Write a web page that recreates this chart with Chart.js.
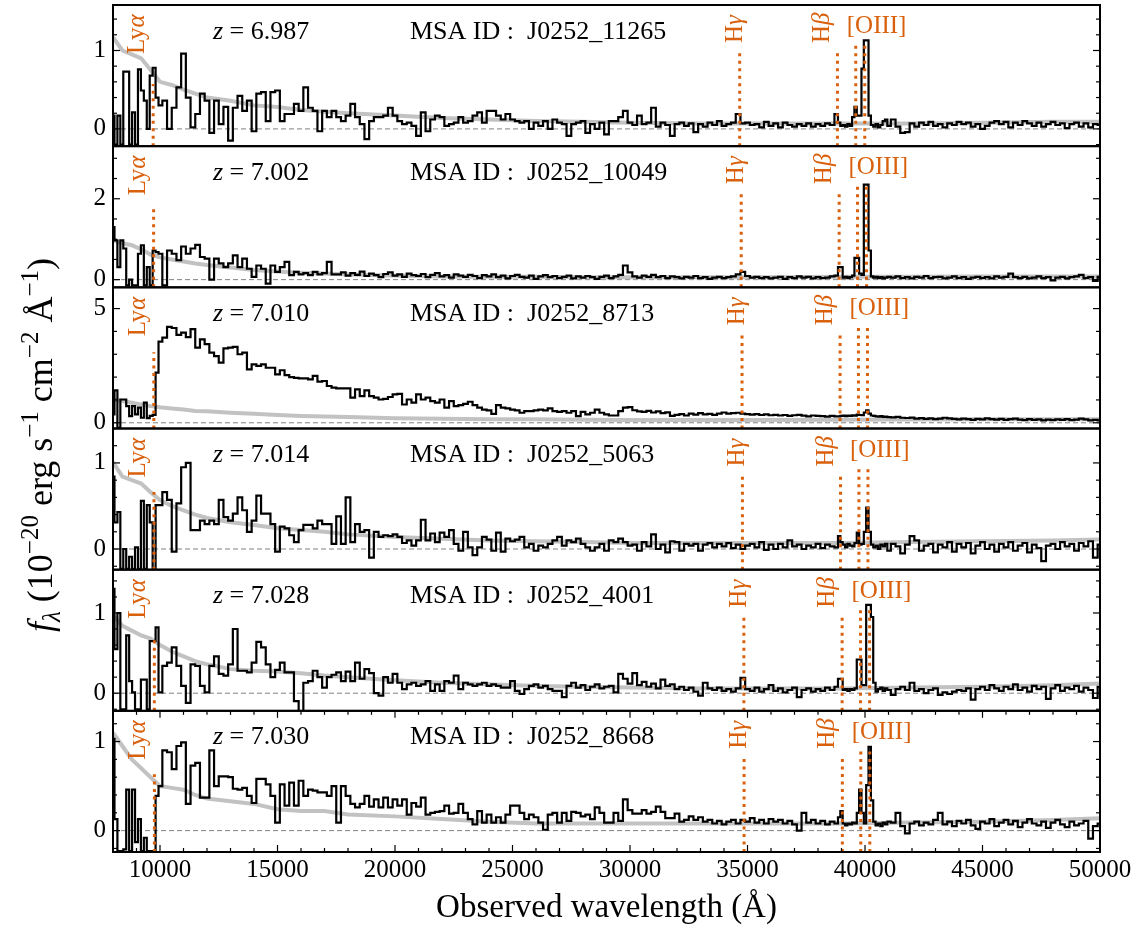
<!DOCTYPE html>
<html>
<head>
<meta charset="utf-8">
<title>PRISM spectra of z~7 galaxies in J0252</title>
<script src="https://cdn.jsdelivr.net/npm/chart.js@4.4.1/dist/chart.umd.min.js"></script>
<style>
  html, body { margin: 0; padding: 0; background: #fff; }
  #wrap { width: 1142px; height: 930px; }
</style>
</head>
<body>
<div id="wrap"><canvas id="canvas" width="1142" height="930"></canvas></div>
<script>
// Centros de los bins en longitud de onda (Å), por tramos
const waveBlue = [8000, 8125, 8250, 8375, 8500, 8625, 8750, 8875, 9000, 9125, 9250, 9375, 9500, 9625, 9750, 9875];
const waveNir = [
  10000, 10200, 10400, 10600, 10800, 11000, 11200, 11400, 11600, 11800,
  12000, 12200, 12400, 12600, 12800, 13000, 13200, 13400, 13600, 13800,
  14000, 14200, 14400, 14600, 14800, 15000, 15200, 15400, 15600, 15800,
  16000, 16200, 16400, 16600, 16800, 17000, 17200, 17400, 17600, 17800,
  18000, 18200, 18400, 18600, 18800, 19000, 19200, 19400, 19600, 19800,
  20000, 20200, 20400, 20600, 20800, 21000, 21200, 21400, 21600, 21800,
  22000, 22200, 22400, 22600, 22800, 23000, 23200, 23400, 23600, 23800,
  24000, 24200, 24400, 24600, 24800, 25000, 25200, 25400, 25600, 25800,
  26000, 26200, 26400, 26600, 26800, 27000, 27200, 27400, 27600, 27800,
  28000, 28200, 28400, 28600, 28800, 29000, 29200, 29400, 29600, 29800
];
const waveMid = [
  30000, 30200, 30400, 30600, 30800, 31000, 31200, 31400, 31600, 31800,
  32000, 32200, 32400, 32600, 32800, 33000, 33200, 33400, 33600, 33800,
  34000, 34200, 34400, 34600, 34800, 35000, 35200, 35400, 35600, 35800,
  36000, 36200, 36400, 36600, 36800, 37000, 37200, 37400, 37600, 37800,
  38000, 38200, 38400, 38600, 38800
];
const waveOiii = [
  38900, 39000, 39100, 39200, 39300, 39400, 39500, 39600, 39700, 39800,
  39900, 40000, 40100, 40200, 40300, 40400, 40500, 40600, 40700, 40800,
  40900, 41000
];
const waveRed = [
  41200, 41400, 41600, 41800, 42000, 42200, 42400, 42600, 42800, 43000,
  43200, 43400, 43600, 43800, 44000, 44200, 44400, 44600, 44800, 45000,
  45200, 45400, 45600, 45800, 46000, 46200, 46400, 46600, 46800, 47000,
  47200, 47400, 47600, 47800, 48000, 48200, 48400, 48600, 48800, 49000,
  49200, 49400, 49600, 49800, 50000
];

// Longitudes de onda donde se muestrea el espectro de error (gris)
const noiseWave = [8000, 8400, 8800, 9200, 9600, 10000, 10500, 11000, 11500, 12000,
  13000, 14000, 15000, 16000, 17000, 18000, 20000, 22000, 24000, 26000,
  28000, 30000, 33000, 36000, 39000, 42000, 45000, 48000, 50000];

// Datos de cada galaxia
const redshifts = [6.987, 7.002, 7.010, 7.014, 7.028, 7.030];
const msaIds = ["J0252_11265", "J0252_10049", "J0252_8713", "J0252_5063", "J0252_4001", "J0252_8668"];

// flujo: [azul, nir, medio, oiii, rojo] en 1e-20 erg/s/cm2/A
const flux11265 = [
  [0.17, -0.20, 0.17, -0.20, 0.73, 0.73, -0.20, 0.21, -0.20, 0.76, 0.49, 0.36, 0.00, 0.68, 0.78, 0.40],
  [0.30, 0.36, 0.00, 0.27, 0.53, 0.96, 0.40, 0.02, 0.19, 0.45,
   0.36, -0.05, 0.36, 0.06, 0.28, -0.15, 0.27, 0.42, 0.23, 0.36,
   -0.03, 0.45, 0.47, 0.10, 0.47, 0.49, 0.10, 0.19, 0.19, 0.32,
   0.23, 0.53, 0.27, 0.23, -0.03, 0.23, 0.15, 0.23, 0.15, 0.10,
   0.17, 0.32, 0.15, 0.06, -0.13, 0.10, 0.15, 0.15, 0.17, 0.27,
   0.17, 0.10, 0.06, 0.08, 0.04, -0.09, 0.21, -0.03, 0.12, 0.17,
   0.15, 0.04, 0.06, 0.08, 0.15, 0.08, 0.10, 0.17, 0.21, 0.08,
   0.23, 0.23, 0.17, 0.12, 0.19, 0.12, 0.10, 0.08, 0.10, 0.00,
   0.08, 0.04, 0.10, 0.00, 0.12, 0.08, 0.06, -0.09, 0.06, 0.08,
   0.10, -0.05, 0.06, 0.00, 0.08, -0.07, 0.10, 0.10, 0.15, 0.23],
  [0.08, 0.05, 0.17, 0.06, 0.08, 0.27, 0.03, 0.08, 0.05, -0.09,
   0.06, 0.08, 0.04, 0.07, -0.04, 0.06, 0.03, 0.08, 0.05, 0.10,
   0.04, 0.06, 0.08, 0.19, 0.07, 0.08, 0.05, 0.06, 0.02, 0.09,
   0.04, 0.07, 0.02, 0.08, 0.05, 0.03, 0.06, 0.04, 0.07, 0.03,
   0.06, 0.04, 0.07, 0.05, 0.19],
  [0.08, 0.04, 0.05, 0.03, 0.06, 0.04, 0.15, 0.28, 0.17, 0.17,
   0.77, 1.13, 1.13, 0.17, 0.05, 0.03, 0.06, 0.02, 0.05, 0.10, 0.12, 0.04],
  [0.12, 0.03, -0.05, -0.04, 0.07, 0.03, 0.08, 0.05, 0.09, 0.04,
   0.06, 0.02, 0.07, 0.05, 0.09, 0.06, 0.08, 0.03, 0.06, 0.00,
   0.04, 0.08, 0.10, 0.06, 0.09, 0.02, 0.08, 0.05, 0.10, 0.07,
   0.04, 0.08, 0.03, 0.06, 0.09, 0.05, 0.07, 0.01, 0.06, 0.08,
   0.03, 0.07, 0.02, 0.06, 0.05]
];
const flux10049 = [
  [1.30, 0.97, 0.31, 0.97, 0.77, -0.14, 0.00, -0.14, -0.14, 0.64, 0.85, -0.14, 0.31, -0.14, 0.72, 0.68],
  [0.64, -0.14, 0.72, 0.64, 0.48, 0.82, 0.64, 0.77, 0.86, 0.56,
   0.52, 0.00, 0.52, 0.40, 0.31, 0.40, 0.60, 0.31, 0.52, 0.27,
   0.07, 0.35, 0.27, -0.10, 0.35, 0.19, 0.31, 0.44, 0.11, 0.19,
   0.13, 0.16, 0.11, 0.19, 0.13, 0.16, 0.44, 0.13, 0.13, 0.18,
   0.10, 0.16, 0.12, 0.20, 0.09, 0.15, 0.11, 0.06, 0.14, 0.18,
   0.10, 0.13, 0.07, 0.15, 0.11, 0.09, 0.14, 0.06, 0.12, 0.16,
   0.08, 0.11, 0.05, 0.13, 0.10, 0.07, 0.12, 0.09, 0.04, 0.11,
   0.08, 0.13, 0.06, 0.10, 0.03, 0.09, 0.12, 0.07, 0.05, 0.10,
   0.02, 0.08, 0.11, 0.06, 0.09, 0.04, 0.07, 0.10, 0.03, 0.08,
   0.05, 0.09, 0.06, 0.02, 0.07, 0.10, 0.04, 0.08, 0.12, 0.35],
  [0.18, 0.08, 0.05, 0.10, 0.07, 0.12, 0.06, 0.09, 0.04, 0.08,
   0.06, 0.03, 0.07, 0.05, 0.09, 0.04, 0.06, 0.02, 0.05, 0.07,
   0.04, 0.06, 0.08, 0.13, 0.19, 0.09, 0.05, 0.07, 0.04, 0.06,
   0.03, 0.05, 0.07, 0.02, 0.06, 0.04, 0.08, 0.05, 0.07, 0.03,
   0.06, 0.04, 0.05, 0.08, 0.10],
  [0.31, 0.31, 0.05, 0.07, 0.04, 0.06, 0.10, 0.54, 0.54, 0.15,
   0.12, 2.35, 2.35, 0.72, 0.08, 0.05, 0.07, 0.04, 0.06, 0.03, 0.05, 0.07],
  [0.05, 0.08, 0.04, 0.06, 0.03, 0.07, 0.05, 0.09, 0.04, 0.06,
   0.07, 0.03, 0.05, 0.08, 0.04, 0.06, 0.02, 0.05, 0.07, 0.04,
   0.06, 0.03, 0.08, 0.05, 0.07, 0.15, 0.06, 0.04, 0.07, 0.03,
   0.05, 0.08, 0.04, 0.06, -0.02, 0.05, 0.07, 0.03, 0.06, 0.08,
   0.12, 0.04, 0.06, -0.03, 0.07]
];
const flux8713 = [
  [0.37, 1.42, -0.22, 1.02, 1.02, 0.73, 0.29, 0.73, 0.37, 0.66, 0.22, 0.88, 0.20, 0.30, 0.35, 2.20],
  [3.55, 3.73, 4.20, 4.15, 3.85, 3.95, 3.75, 4.10, 3.29, 3.65,
   3.44, 3.07, 2.92, 2.63, 3.26, 3.29, 3.32, 3.00, 3.07, 2.34,
   2.56, 2.49, 2.56, 2.41, 2.41, 2.12, 2.30, 2.09, 2.00, 1.97,
   1.94, 1.94, 1.90, 2.05, 1.80, 1.83, 1.61, 1.54, 1.51, 1.51,
   1.51, 1.10, 1.46, 1.17, 1.42, 1.17, 1.10, 1.02, 1.05, 1.13,
   1.24, 1.27, 0.80, 1.02, 0.88, 1.24, 1.02, 1.10, 0.95, 0.88,
   1.02, 0.66, 0.95, 0.73, 0.77, 0.83, 0.92, 0.77, 0.66, 0.58,
   0.54, 0.39, 0.77, 0.66, 0.63, 0.58, 0.54, 0.44, 0.51, 0.51,
   0.54, 0.58, 0.54, 0.63, 0.51, 0.48, 0.51, 0.44, 0.51, 0.29,
   0.48, 0.37, 0.44, 0.58, 0.44, 0.37, 0.32, 0.32, 0.51, 0.66],
  [0.69, 0.55, 0.50, 0.48, 0.52, 0.45, 0.50, 0.42, 0.46, 0.30,
   0.35, 0.38, 0.32, 0.40, 0.36, 0.42, 0.37, 0.39, 0.35, 0.40,
   0.45, 0.40, 0.42, 0.44, 0.40, 0.38, 0.36, 0.38, 0.34, 0.37,
   0.33, 0.35, 0.32, 0.34, 0.30, 0.33, 0.35, 0.31, 0.28, 0.32,
   0.30, 0.29, 0.27, 0.30, 0.28],
  [0.28, 0.30, 0.31, 0.29, 0.32, 0.30, 0.33, 0.31, 0.36, 0.34,
   0.33, 0.45, 0.54, 0.40, 0.32, 0.30, 0.28, 0.27, 0.29, 0.26, 0.27, 0.25],
  [0.24, 0.26, 0.22, 0.21, 0.23, 0.18, 0.20, 0.17, 0.19, 0.16,
   0.18, 0.22, 0.19, 0.17, 0.15, 0.18, 0.16, 0.13, 0.17, 0.15,
   0.19, 0.16, 0.14, 0.17, 0.13, 0.16, 0.18, 0.14, 0.12, 0.16,
   0.13, 0.15, 0.11, 0.14, 0.12, 0.15, 0.13, 0.16, 0.12, 0.14,
   0.18, 0.15, 0.11, 0.13, 0.10]
];
const flux5063 = [
  [0.84, 0.31, 0.43, -0.23, 0.00, -0.23, -0.09, -0.23, 0.02, -0.23, 0.56, -0.23, 0.51, 0.31, -0.23, 0.51],
  [0.51, 0.66, 0.57, -0.03, 0.53, 0.95, 1.00, 0.22, 0.22, 0.33,
   0.29, 0.33, 0.29, 0.57, 0.37, 0.33, 0.41, 0.60, 0.45, 0.20,
   0.33, 0.62, 0.41, 0.41, 0.29, -0.03, 0.26, 0.24, 0.16, 0.08,
   0.22, 0.28, 0.28, 0.24, 0.33, 0.29, 0.29, 0.06, 0.38, 0.06,
   0.60, 0.08, 0.29, 0.20, 0.22, -0.10, 0.20, 0.14, 0.16, 0.15,
   0.17, 0.14, 0.07, 0.10, 0.04, 0.10, 0.34, 0.10, 0.18, 0.08,
   0.19, 0.14, 0.22, 0.06, -0.02, 0.20, 0.02, -0.07, 0.02, 0.14,
   0.11, -0.02, 0.19, -0.03, 0.12, 0.09, 0.11, 0.14, 0.02, 0.06,
   -0.02, 0.04, 0.02, 0.06, 0.10, 0.14, 0.04, 0.10, 0.08, 0.12,
   0.06, 0.02, -0.02, 0.02, 0.06, -0.02, 0.10, 0.08, 0.12, 0.08],
  [0.04, 0.05, -0.02, 0.08, 0.03, 0.17, 0.00, 0.05, -0.04, 0.09,
   0.08, -0.02, 0.06, 0.04, 0.06, -0.02, 0.05, 0.07, 0.02, 0.06,
   0.03, 0.07, 0.01, 0.05, 0.00, 0.04, 0.06, 0.02, 0.08, -0.01,
   0.05, 0.00, 0.06, 0.02, 0.10, 0.03, 0.05, 0.00, 0.04, 0.02,
   0.06, 0.01, 0.05, 0.03, 0.02],
  [0.15, 0.08, 0.05, 0.02, 0.06, 0.04, 0.03, 0.07, 0.19, 0.05,
   0.06, 0.20, 0.48, 0.20, 0.05, 0.02, 0.04, 0.00, 0.05, 0.03, 0.06, -0.02],
  [0.06, 0.03, -0.05, 0.05, 0.15, 0.10, -0.02, 0.04, 0.06, -0.04,
   0.05, 0.02, 0.08, -0.03, 0.06, 0.02, 0.07, -0.05, 0.04, 0.08,
   0.00, 0.05, -0.03, 0.06, 0.02, 0.08, -0.02, 0.04, 0.07, -0.04,
   0.05, 0.01, -0.14, 0.04, 0.06, 0.00, 0.08, 0.03, 0.06, -0.02,
   0.07, 0.03, 0.09, -0.10, 0.05]
];
const flux4001 = [
  [1.30, 0.55, 1.00, -0.20, -0.20, 0.72, 0.15, 0.01, -0.20, -0.20, 0.17, 0.17, -0.20, 0.65, 0.65, 0.82],
  [0.01, 0.34, 0.38, 0.57, 0.34, 0.09, -0.12, 0.36, 0.34, 0.09,
   0.01, 0.34, 0.46, 0.24, 0.22, 0.36, 0.80, 0.28, 0.28, 0.26,
   0.38, 0.64, 0.57, 0.36, 0.20, 0.29, 0.38, 0.26, 0.26, -0.10,
   -0.24, 0.13, 0.15, 0.28, 0.20, 0.07, 0.20, 0.23, 0.26, 0.15,
   0.27, 0.15, 0.38, 0.18, 0.30, 0.25, 0.00, -0.03, 0.20, 0.13,
   0.24, 0.13, 0.05, 0.11, 0.13, 0.09, 0.11, 0.15, 0.03, 0.11,
   0.03, 0.15, 0.13, 0.22, 0.05, 0.13, 0.11, 0.09, 0.11, 0.13,
   0.09, 0.11, 0.09, 0.07, 0.07, 0.15, 0.03, -0.01, 0.05, 0.09,
   0.11, 0.07, 0.09, 0.05, 0.03, 0.03, -0.05, 0.09, 0.13, 0.07,
   0.10, 0.04, 0.08, 0.11, 0.06, 0.08, 0.09, 0.01, 0.24, 0.18],
  [0.12, 0.25, 0.10, 0.14, 0.08, 0.12, 0.06, 0.17, 0.09, 0.11,
   0.05, 0.08, 0.04, 0.07, 0.02, -0.03, 0.13, 0.06, 0.04, 0.07,
   0.03, 0.05, 0.02, 0.06, 0.19, 0.05, 0.03, 0.07, 0.02, 0.05,
   0.10, 0.03, 0.06, 0.01, 0.04, 0.07, -0.05, 0.04, 0.06, 0.02,
   0.05, 0.03, 0.07, 0.04, 0.08],
  [0.18, 0.18, 0.04, 0.05, 0.03, 0.05, 0.04, 0.06, 0.42, 0.42,
   0.10, 0.10, 1.10, 1.10, 0.95, 0.13, 0.02, 0.05, 0.07, 0.03, 0.06, 0.04],
  [-0.02, 0.05, 0.08, 0.04, 0.13, 0.03, 0.05, 0.00, 0.04, 0.06,
   -0.02, 0.01, -0.01, 0.02, 0.04, 0.03, 0.06, -0.08, 0.05, 0.08,
   0.04, 0.10, 0.06, 0.03, 0.08, 0.05, 0.11, 0.04, 0.07, 0.02,
   0.09, 0.05, 0.08, -0.07, 0.06, 0.10, 0.03, 0.07, 0.05, 0.09,
   0.02, 0.07, 0.04, -0.06, 0.08]
];
const flux8668 = [
  [1.03, 0.13, -0.23, -0.23, -0.21, 0.46, -0.23, 0.46, -0.13, 0.13, -0.23, -0.08, -0.23, -0.23, -0.23, 0.39],
  [0.50, 0.90, 0.88, 0.69, 0.95, 0.99, 0.30, 0.73, 0.76, 0.37,
   0.37, 0.90, 0.50, 0.61, 0.61, 0.60, 0.47, 0.46, 0.48, 0.39,
   0.31, 0.58, 0.58, 0.52, 0.39, 0.09, 0.52, 0.28, 0.54, 0.28,
   0.56, 0.39, 0.46, 0.45, 0.43, 0.43, 0.39, 0.50, 0.09, 0.50,
   0.39, 0.30, 0.26, 0.30, 0.39, 0.27, 0.35, 0.26, 0.37, 0.26,
   0.35, 0.28, 0.35, 0.18, 0.31, 0.27, 0.37, 0.18, 0.20, 0.21,
   0.22, 0.28, 0.19, 0.20, 0.30, 0.20, 0.13, 0.07, 0.22, 0.09,
   0.18, 0.09, 0.15, 0.09, 0.18, 0.28, 0.28, 0.20, 0.13, 0.18,
   0.15, 0.09, 0.01, 0.18, 0.20, 0.09, 0.20, 0.11, 0.21, 0.20,
   0.16, 0.18, 0.13, 0.26, 0.20, 0.09, 0.09, 0.20, 0.11, 0.35],
  [0.23, 0.19, 0.19, 0.23, 0.19, 0.21, 0.27, 0.21, 0.14, 0.14,
   0.19, 0.10, 0.12, 0.16, 0.12, 0.15, 0.10, 0.12, 0.08, 0.11,
   0.07, 0.10, 0.12, 0.08, 0.12, 0.10, 0.14, 0.09, 0.12, 0.08,
   0.13, 0.10, 0.12, 0.08, 0.11, 0.07, 0.00, 0.20, 0.09, 0.12,
   0.08, 0.11, 0.07, 0.10, 0.08],
  [0.15, 0.22, 0.08, 0.06, 0.08, 0.07, 0.09, 0.08, 0.20, 0.46,
   0.20, 0.08, 0.51, 0.94, 0.34, 0.10, 0.06, 0.08, 0.05, 0.09, 0.07, 0.10],
  [0.09, 0.20, 0.05, -0.03, 0.08, 0.10, 0.06, 0.09, 0.07, 0.12,
   0.20, 0.07, 0.10, 0.05, 0.11, 0.08, 0.12, 0.06, 0.02, 0.10,
   0.08, 0.13, 0.05, 0.09, 0.12, 0.07, 0.11, 0.04, 0.09, 0.13,
   0.08, 0.06, 0.10, 0.03, 0.09, 0.12, 0.07, 0.04, 0.10, 0.06,
   0.08, 0.11, -0.09, 0.05, 0.08]
];

// Espectros de error (gris), sobre noiseWave
const noise11265 = [1.17, 1.00, 0.95, 0.90, 0.75, 0.60, 0.56, 0.50, 0.45, 0.40, 0.36, 0.30, 0.28, 0.24, 0.22, 0.20, 0.17, 0.14, 0.12, 0.10, 0.09, 0.08, 0.07, 0.07, 0.07, 0.07, 0.08, 0.09, 0.09];
const noise10049 = [0.97, 0.90, 0.85, 0.75, 0.62, 0.55, 0.50, 0.45, 0.40, 0.36, 0.30, 0.24, 0.20, 0.17, 0.15, 0.13, 0.10, 0.08, 0.07, 0.07, 0.06, 0.06, 0.06, 0.06, 0.07, 0.07, 0.08, 0.08, 0.08];
const noise8713 = [1.02, 0.95, 0.88, 0.80, 0.73, 0.68, 0.63, 0.58, 0.52, 0.50, 0.44, 0.40, 0.34, 0.30, 0.27, 0.25, 0.20, 0.18, 0.16, 0.15, 0.13, 0.12, 0.12, 0.12, 0.13, 0.14, 0.15, 0.16, 0.16];
const noise5063 = [1.01, 0.84, 0.80, 0.76, 0.66, 0.57, 0.50, 0.45, 0.40, 0.36, 0.31, 0.28, 0.24, 0.22, 0.20, 0.17, 0.14, 0.12, 0.10, 0.09, 0.08, 0.07, 0.07, 0.07, 0.07, 0.08, 0.09, 0.10, 0.11];
const noise4001 = [0.97, 0.84, 0.78, 0.72, 0.68, 0.60, 0.52, 0.46, 0.40, 0.36, 0.30, 0.28, 0.27, 0.25, 0.22, 0.20, 0.16, 0.13, 0.11, 0.09, 0.08, 0.07, 0.06, 0.06, 0.06, 0.07, 0.08, 0.10, 0.12];
const noise8668 = [1.10, 0.95, 0.80, 0.70, 0.60, 0.50, 0.48, 0.46, 0.40, 0.36, 0.33, 0.30, 0.24, 0.22, 0.22, 0.18, 0.16, 0.13, 0.10, 0.08, 0.08, 0.08, 0.08, 0.08, 0.08, 0.09, 0.10, 0.12, 0.14];

// Ejes
const yMin = [-0.22, -0.19, -0.25, -0.24, -0.22, -0.24];
const yMax = [1.58, 3.30, 5.93, 1.40, 1.54, 1.345];
const yMajor = [[0, 1], [0, 2], [0, 5], [0, 1], [0, 1], [0, 1]];
const yMinorStep = [0.2, 0.5, 1, 0.2, 0.2, 0.2];
const xMajor = [10000, 15000, 20000, 25000, 30000, 35000, 40000, 45000, 50000];

// Lineas de emision (reposo, Å)
const lineRest = [1215.67, 4340.47, 4861.33, 4958.91, 5006.84];
const lineTop = [null, 0.67, 0.67, 0.715, 0.715];
const lyaTop = [0.44, 0.56, 0.54, 0.55, 0.50, 0.55];

const fluxes = [flux11265, flux10049, flux8713, flux5063, flux4001, flux8668];
const noises = [noise11265, noise10049, noise8713, noise5063, noise4001, noise8668];
const waveSegments = [waveBlue, waveNir, waveMid, waveOiii, waveRed];

const SERIF = "'Liberation Serif', 'Times New Roman', serif";
const ORANGE = "#d9600c";

// Junta los tramos en puntos {x, y}
function toPoints(segments) {
  const pts = [];
  segments.forEach((vals, s) => {
    const w = waveSegments[s];
    if (vals.length !== w.length) console.warn("tramo", s, vals.length, w.length);
    for (let i = 0; i < Math.min(vals.length, w.length); i++) {
      pts.push({ x: w[i], y: vals[i] });
    }
  });
  return pts;
}

const datasets = [];
redshifts.forEach((z, i) => {
  datasets.push({
    label: msaIds[i],
    data: toPoints(fluxes[i]),
    yAxisID: "y" + i,
    stepped: "middle",
    borderColor: "#000",
    borderWidth: 2.2,
    pointRadius: 0,
    fill: false,
    order: 0,
  });
  datasets.push({
    label: "error " + msaIds[i],
    data: noiseWave.map((w, k) => ({ x: w, y: noises[i][k] })),
    yAxisID: "y" + i,
    borderColor: "#c2c2c2",
    borderWidth: 4,
    pointRadius: 0,
    fill: false,
    order: 1,
  });
  datasets.push({
    label: "cero",
    data: [{ x: 8000, y: 0 }, { x: 50000, y: 0 }],
    yAxisID: "y" + i,
    borderColor: "#808080",
    borderWidth: 1,
    borderDash: [5, 3],
    pointRadius: 0,
    fill: false,
    order: 2,
  });
});

const scales = {
  x: {
    type: "linear",
    position: "bottom",
    min: 8000,
    max: 50000,
    grid: { display: false, drawTicks: false },
    border: { display: false },
    afterBuildTicks: (s) => { s.ticks = xMajor.map((v) => ({ value: v })); },
    afterFit: (s) => { s.height = 78; s.paddingLeft = 0; s.paddingRight = 0; },
    ticks: {
      font: { family: SERIF, size: 25 },
      color: "#000",
      padding: 3,
      maxRotation: 0,
      autoSkip: false,
      callback: (v) => String(v),
    },
    title: {
      display: true,
      text: "Observed wavelength (Å)",
      font: { family: SERIF, size: 33 },
      color: "#000",
      padding: { top: 0, bottom: 2 },
    },
  },
};
redshifts.forEach((z, i) => {
  scales["y" + i] = {
    type: "linear",
    position: "left",
    stack: "spec",
    stackWeight: 1,
    weight: 6 - i,
    min: yMin[i],
    max: yMax[i],
    grid: { display: false, drawTicks: false },
    border: { display: false },
    afterBuildTicks: (s) => { s.ticks = yMajor[i].map((v) => ({ value: v })); },
    afterFit: (s) => { s.width = 113; s.paddingTop = 0; s.paddingBottom = 0; },
    ticks: {
      font: { family: SERIF, size: 25 },
      color: "#000",
      padding: 7,
      autoSkip: false,
      callback: (v) => String(v),
    },
  };
});

// Dibuja trozos de texto con distintas fuentes seguidos
function richWidth(ctx, parts) {
  let w = 0;
  parts.forEach((p) => {
    ctx.font = (p.italic ? "italic " : "") + p.size + "px " + SERIF;
    w += ctx.measureText(p.text).width;
  });
  return w;
}
function drawRich(ctx, parts, x, y) {
  let cx = x;
  parts.forEach((p) => {
    ctx.font = (p.italic ? "italic " : "") + p.size + "px " + SERIF;
    ctx.fillText(p.text, cx, y + (p.dy || 0));
    cx += ctx.measureText(p.text).width;
  });
}
function vText(ctx, parts, x, y) {
  ctx.save();
  ctx.translate(x, y);
  ctx.rotate(-Math.PI / 2);
  ctx.textAlign = "left";
  ctx.textBaseline = "alphabetic";
  drawRich(ctx, parts, 0, 0);
  ctx.restore();
}
function seg(ctx, x1, y1, x2, y2) {
  ctx.beginPath();
  ctx.moveTo(x1, y1);
  ctx.lineTo(x2, y2);
  ctx.stroke();
}

const panelDecor = {
  id: "panelDecor",
  beforeDatasetDraw(chart, args) {
    // recorta cada espectro a su propio panel
    const ys = chart.scales[args.meta.yAxisID];
    const a = chart.chartArea;
    const ctx = chart.ctx;
    ctx.save();
    ctx.beginPath();
    ctx.rect(a.left, ys.top, a.right - a.left, ys.bottom - ys.top);
    ctx.clip();
  },
  afterDatasetDraw(chart) {
    chart.ctx.restore();
  },
  afterDatasetsDraw(chart) {
    const ctx = chart.ctx;
    const a = chart.chartArea;
    const xs = chart.scales.x;
    redshifts.forEach((z, i) => {
      const ys = chart.scales["y" + i];
      const top = ys.top, bot = ys.bottom, h = bot - top;
      const lx = lineRest.map((w) => xs.getPixelForValue(w * (1 + z)));

      // lineas punteadas
      ctx.save();
      ctx.strokeStyle = ORANGE;
      ctx.lineWidth = 3;
      ctx.setLineDash([3, 4.5]);
      lx.forEach((x, k) => {
        const frac = k === 0 ? lyaTop[i] : lineTop[k];
        seg(ctx, x, bot, x, bot - frac * h);
      });
      ctx.restore();

      // etiquetas de lineas
      ctx.save();
      ctx.fillStyle = ORANGE;
      vText(ctx, [{ text: "Ly", size: 25 }, { text: "α", size: 25, italic: true }], lx[0] - 9, top + 49);
      vText(ctx, [{ text: "H", size: 25 }, { text: "γ", size: 25, italic: true }], lx[1] + 2, top + 38);
      vText(ctx, [{ text: "H", size: 25 }, { text: "β", size: 25, italic: true }], lx[2] - 8, top + 38);
      ctx.textAlign = "left";
      ctx.textBaseline = "alphabetic";
      drawRich(ctx, [{ text: "[OIII]", size: 25 }], lx[3] - 9, top + 28);
      ctx.restore();

      // redshift e ID
      ctx.save();
      ctx.fillStyle = "#000";
      ctx.textAlign = "left";
      ctx.textBaseline = "alphabetic";
      drawRich(ctx, [{ text: "z", size: 26, italic: true }, { text: " = " + z.toFixed(3), size: 26 }], a.left + 100, top + 33.5);
      drawRich(ctx, [{ text: "MSA ID :  " + msaIds[i], size: 26 }], a.left + 297, top + 33.5);
      ctx.restore();

      // ticks hacia adentro
      ctx.save();
      ctx.strokeStyle = "#000";
      ctx.lineWidth = 1.2;
      const st = yMinorStep[i];
      for (let k = Math.ceil(yMin[i] / st - 1e-9); k * st <= yMax[i] + 1e-9; k++) {
        const v = k * st;
        const y = ys.getPixelForValue(v);
        const major = yMajor[i].some((m) => Math.abs(m - v) < 1e-6);
        const len = major ? 7 : 4;
        seg(ctx, a.left, y, a.left + len, y);
        seg(ctx, a.right - len, y, a.right, y);
      }
      if (i === redshifts.length - 1) {
        for (let w = 8000; w <= 50000; w += 1000) {
          const x = xs.getPixelForValue(w);
          const len = w % 5000 === 0 ? 7 : 4;
          seg(ctx, x, bot, x, bot - len);
          seg(ctx, x, top, x, top + len);
        }
      }
      // marco
      ctx.lineWidth = 2;
      ctx.strokeRect(a.left, top, a.right - a.left, h);
      ctx.restore();
    });
  },
  afterDraw(chart) {
    // titulo del eje y
    const ctx = chart.ctx;
    const parts = [
      { text: "f", size: 36, italic: true },
      { text: "λ", size: 25, italic: true, dy: 8 },
      { text: " (10", size: 36 },
      { text: "−20", size: 25, dy: -14 },
      { text: " erg s", size: 36 },
      { text: "−1", size: 25, dy: -14 },
      { text: " cm", size: 36 },
      { text: "−2", size: 25, dy: -14 },
      { text: " Å", size: 36 },
      { text: "−1", size: 25, dy: -14 },
      { text: ")", size: 36 },
    ];
    ctx.save();
    ctx.fillStyle = "#000";
    const w = richWidth(ctx, parts);
    ctx.translate(52, 445);
    ctx.rotate(-Math.PI / 2);
    ctx.textAlign = "left";
    ctx.textBaseline = "alphabetic";
    drawRich(ctx, parts, -w / 2, 0);
    ctx.restore();
  },
};

Chart.defaults.font.family = SERIF;

new Chart(document.getElementById("canvas"), {
  type: "line",
  data: { datasets },
  options: {
    responsive: false,
    animation: false,
    devicePixelRatio: 1,
    events: [],
    layout: { padding: { left: 0, right: 42, top: 5, bottom: 0 } },
    plugins: { legend: { display: false }, tooltip: { enabled: false } },
    scales,
  },
  plugins: [panelDecor],
});
</script>
</body>
</html>
